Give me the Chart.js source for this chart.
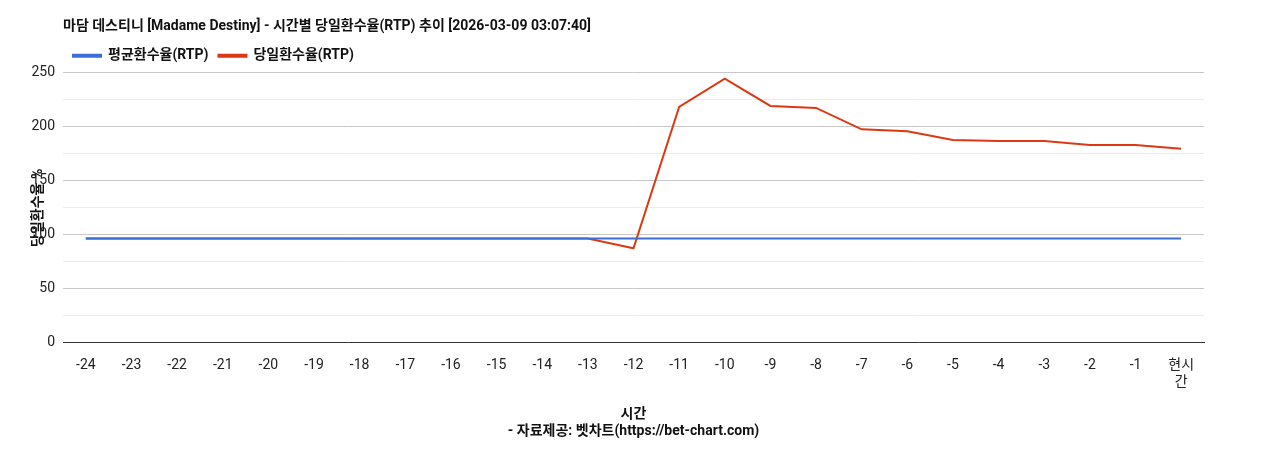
<!DOCTYPE html>
<html><head><meta charset="utf-8">
<script src="https://cdn.jsdelivr.net/npm/chart.js@4"></script>
<style>body{margin:0;background:#fff}#w{width:1268px;height:450px}</style>
</head><body><div id="w"><canvas id="c"></canvas></div>
<script>
const labels=["-24","-23","-22","-21","-20","-19","-18","-17","-16","-15","-14","-13","-12","-11","-10","-9","-8","-7","-6","-5","-4","-3","-2","-1",["현시","간"]];
const avgRtp=[96.5,96.5,96.5,96.5,96.5,96.5,96.5,96.5,96.5,96.5,96.5,96.5,96.5,96.5,96.5,96.5,96.5,96.5,96.5,96.5,96.5,96.5,96.5,96.5,96.5];
const dayRtp=[96.5,96.5,96.5,96.5,96.5,96.5,96.5,96.5,96.5,96.5,96.5,96.5,87.5,218.4,244.6,219.3,217.5,197.7,195.8,187.7,186.8,186.8,183.2,183.2,179.6];
const F="Roboto,'Liberation Sans','Noto Sans CJK KR',sans-serif";
Chart.defaults.font.family=F;Chart.defaults.color="#222";
new Chart(document.getElementById('c'),{type:'line',
data:{labels,datasets:[
{label:'평균환수율(RTP)',data:avgRtp,borderColor:'#3b6fd8',backgroundColor:'#3b6fd8',borderWidth:2,pointRadius:0,tension:0},
{label:'당일환수율(RTP)',data:dayRtp,borderColor:'#dc3912',backgroundColor:'#dc3912',borderWidth:2,pointRadius:0,tension:0}]},
options:{responsive:true,maintainAspectRatio:false,animation:false,
layout:{padding:{left:30,right:64,top:14,bottom:6}},
plugins:{title:{display:true,fullSize:false,text:'마담 데스티니 [Madame Destiny] - 시간별 당일환수율(RTP) 추이 [2026-03-09 03:07:40]',align:'start',font:{size:14,weight:'bold'},color:'#111',padding:{top:4,bottom:4}},
legend:{fullSize:false,align:'start',labels:{boxWidth:28,boxHeight:2,font:{size:14,weight:'bold'},color:'#111',padding:10},
 onHover:null}},
scales:{y:{min:0,max:250,afterFit:s=>{s.width=33},ticks:{stepSize:25,font:{size:14},padding:8,callback:v=>v%50===0?v:''},
grid:{color:c=>c.tick.value%50===0?'#c8c8c8':'#ececec',drawTicks:false},border:{display:false},
title:{display:true,text:'당일환수율 %',font:{size:14,weight:'bold'},color:'#111',padding:0}},
x:{offset:true,ticks:{font:{size:14},maxRotation:0,autoSkip:false,padding:6},grid:{display:false,offset:true},border:{color:'#333'},
title:{display:true,text:['시간','- 자료제공: 벳차트(https://bet-chart.com)'],font:{size:14,weight:'bold'},color:'#111',padding:{top:10}}}}},
plugins:[{id:'lp',beforeInit(ch){const l=ch.legend;}}]});
</script></body></html>
